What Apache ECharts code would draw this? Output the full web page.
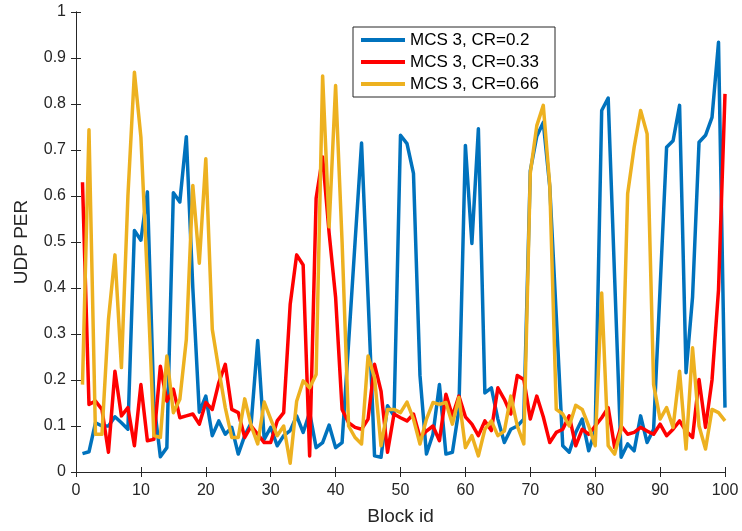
<!DOCTYPE html>
<html>
<head>
<meta charset="utf-8">
<script src="https://cdn.jsdelivr.net/npm/echarts@6/dist/echarts.min.js"></script>
<style>
html,body{margin:0;padding:0;background:#fff;}
#chart{width:742px;height:531px;}
</style>
</head>
<body>
<div id="chart"></div>
<script>
// Block ids 1..100
const blockIds = [1,2,3,4,5,6,7,8,9,10,11,12,13,14,15,16,17,18,19,20,21,22,23,24,25,26,27,28,29,30,31,32,33,34,35,36,37,38,39,40,41,42,43,44,45,46,47,48,49,50,51,52,53,54,55,56,57,58,59,60,61,62,63,64,65,66,67,68,69,70,71,72,73,74,75,76,77,78,79,80,81,82,83,84,85,86,87,88,89,90,91,92,93,94,95,96,97,98,99,100];

const seriesNames = ['MCS 3, CR=0.2', 'MCS 3, CR=0.33', 'MCS 3, CR=0.66'];

const perCR020 = [
0.04,0.044,0.107,0.10,0.10,0.12,0.107,0.093,0.525,0.504,
0.609,0.15,0.033,0.053,0.607,0.587,0.729,0.40,0.13,0.165,
0.079,0.111,0.082,0.097,0.039,0.079,0.107,0.286,0.071,0.097,
0.057,0.079,0.09,0.122,0.086,0.129,0.053,0.064,0.102,0.053,
0.064,0.28,0.50,0.715,0.38,0.035,0.032,0.144,0.122,0.732,
0.714,0.649,0.21,0.039,0.082,0.19,0.039,0.043,0.136,0.71,
0.497,0.746,0.172,0.183,0.115,0.064,0.093,0.10,0.115,0.655,
0.73,0.76,0.62,0.34,0.057,0.043,0.086,0.115,0.046,0.09,
0.786,0.813,0.42,0.032,0.061,0.046,0.122,0.064,0.093,0.40,
0.706,0.72,0.797,0.216,0.38,0.717,0.732,0.771,0.934,0.14
];

const perCR033 = [
0.63,0.147,0.154,0.136,0.043,0.219,0.122,0.14,0.057,0.19,
0.068,0.071,0.23,0.154,0.18,0.118,0.122,0.126,0.104,0.151,
0.136,0.194,0.234,0.136,0.129,0.075,0.10,0.082,0.064,0.064,
0.111,0.129,0.364,0.472,0.45,0.035,0.595,0.685,0.52,0.38,
0.136,0.107,0.097,0.093,0.115,0.234,0.176,0.043,0.126,0.118,
0.111,0.126,0.075,0.089,0.10,0.068,0.169,0.122,0.165,0.12,
0.104,0.079,0.111,0.09,0.183,0.158,0.126,0.21,0.201,0.115,
0.165,0.12,0.064,0.086,0.093,0.122,0.057,0.093,0.082,0.10,
0.118,0.14,0.053,0.10,0.082,0.086,0.097,0.089,0.082,0.104,
0.079,0.093,0.111,0.089,0.075,0.201,0.097,0.20,0.396,0.822
];

const perCR066 = [
0.19,0.744,0.082,0.082,0.331,0.472,0.227,0.60,0.869,0.728,
0.42,0.079,0.075,0.252,0.129,0.158,0.288,0.623,0.454,0.681,
0.31,0.223,0.14,0.075,0.075,0.159,0.10,0.061,0.152,0.115,
0.079,0.10,0.019,0.154,0.198,0.183,0.212,0.861,0.533,0.84,
0.50,0.10,0.075,0.061,0.252,0.205,0.057,0.136,0.136,0.129,
0.152,0.115,0.061,0.115,0.151,0.147,0.151,0.104,0.162,0.053,
0.079,0.035,0.093,0.111,0.079,0.089,0.165,0.10,0.061,0.65,
0.753,0.797,0.623,0.136,0.126,0.10,0.145,0.136,0.10,0.057,
0.389,0.057,0.039,0.093,0.605,0.706,0.786,0.735,0.19,0.115,
0.14,0.097,0.219,0.05,0.27,0.10,0.05,0.136,0.129,0.111
];

const seriesColors = ['#0072BD', '#FF0000', '#EDB120'];

const allValues = [perCR020, perCR033, perCR066];
const axisColor = '#262626';
const fontFamily = "'Liberation Sans', Arial, sans-serif";

const chart = echarts.init(document.getElementById('chart'));

const series = allValues.map((vals, k) => ({
  name: seriesNames[k],
  type: 'line',
  xAxisIndex: 0,
  yAxisIndex: 0,
  symbol: 'none',
  showSymbol: false,
  animation: false,
  lineStyle: { width: 3.5, color: seriesColors[k], join: 'round' },
  itemStyle: { color: seriesColors[k] },
  data: blockIds.map((id, i) => [id, vals[i]])
}));

const option = {
  backgroundColor: '#fff',
  animation: false,
  grid: { left: 76, right: 17, top: 12, bottom: 58, containLabel: false },
  legend: {
    data: seriesNames,
    orient: 'vertical',
    left: 353,
    top: 27,
    icon: 'rect',
    itemWidth: 44,
    itemHeight: 4,
    itemGap: 4,
    itemTextGap: 6,
    padding: [4, 8, 4, 8],
    borderColor: axisColor,
    borderWidth: 1,
    backgroundColor: '#fff',
    textStyle: { fontSize: 17, color: '#000', fontFamily: fontFamily, lineHeight: 18, width: 137 }
  },
  xAxis: [
    {
      type: 'value', min: 0, max: 100, interval: 10, position: 'bottom',
      name: 'Block id', nameLocation: 'middle', nameGap: 35,
      nameTextStyle: { fontSize: 19, color: axisColor, fontFamily: fontFamily },
      axisLine: { show: true, lineStyle: { color: axisColor, width: 1 } },
      axisTick: { show: true, inside: true, length: 5, lineStyle: { color: axisColor } },
      axisLabel: { fontSize: 16, color: axisColor, fontFamily: fontFamily, margin: 11 },
      splitLine: { show: false }
    },
    {
      type: 'value', min: 0, max: 100, interval: 10, position: 'top',
      axisLine: { show: true, lineStyle: { color: axisColor, width: 1 } },
      axisTick: { show: true, inside: true, length: 5, lineStyle: { color: axisColor } },
      axisLabel: { show: false },
      splitLine: { show: false }
    }
  ],
  yAxis: [
    {
      type: 'value', min: 0, max: 1, interval: 0.1, position: 'left',
      name: 'UDP PER', nameLocation: 'middle', nameGap: 45,
      nameTextStyle: { fontSize: 19, color: axisColor, fontFamily: fontFamily },
      axisLine: { show: true, lineStyle: { color: axisColor, width: 1 } },
      axisTick: { show: true, inside: true, length: 5, lineStyle: { color: axisColor } },
      axisLabel: { fontSize: 16, color: axisColor, fontFamily: fontFamily, margin: 10,
        formatter: v => String(+(+v).toFixed(1)) },
      splitLine: { show: false }
    },
    {
      type: 'value', min: 0, max: 1, interval: 0.1, position: 'right',
      axisLine: { show: true, lineStyle: { color: axisColor, width: 1 } },
      axisTick: { show: true, inside: true, length: 5, lineStyle: { color: axisColor } },
      axisLabel: { show: false },
      splitLine: { show: false }
    }
  ],
  series: series
};

chart.setOption(option);
</script>
</body>
</html>
